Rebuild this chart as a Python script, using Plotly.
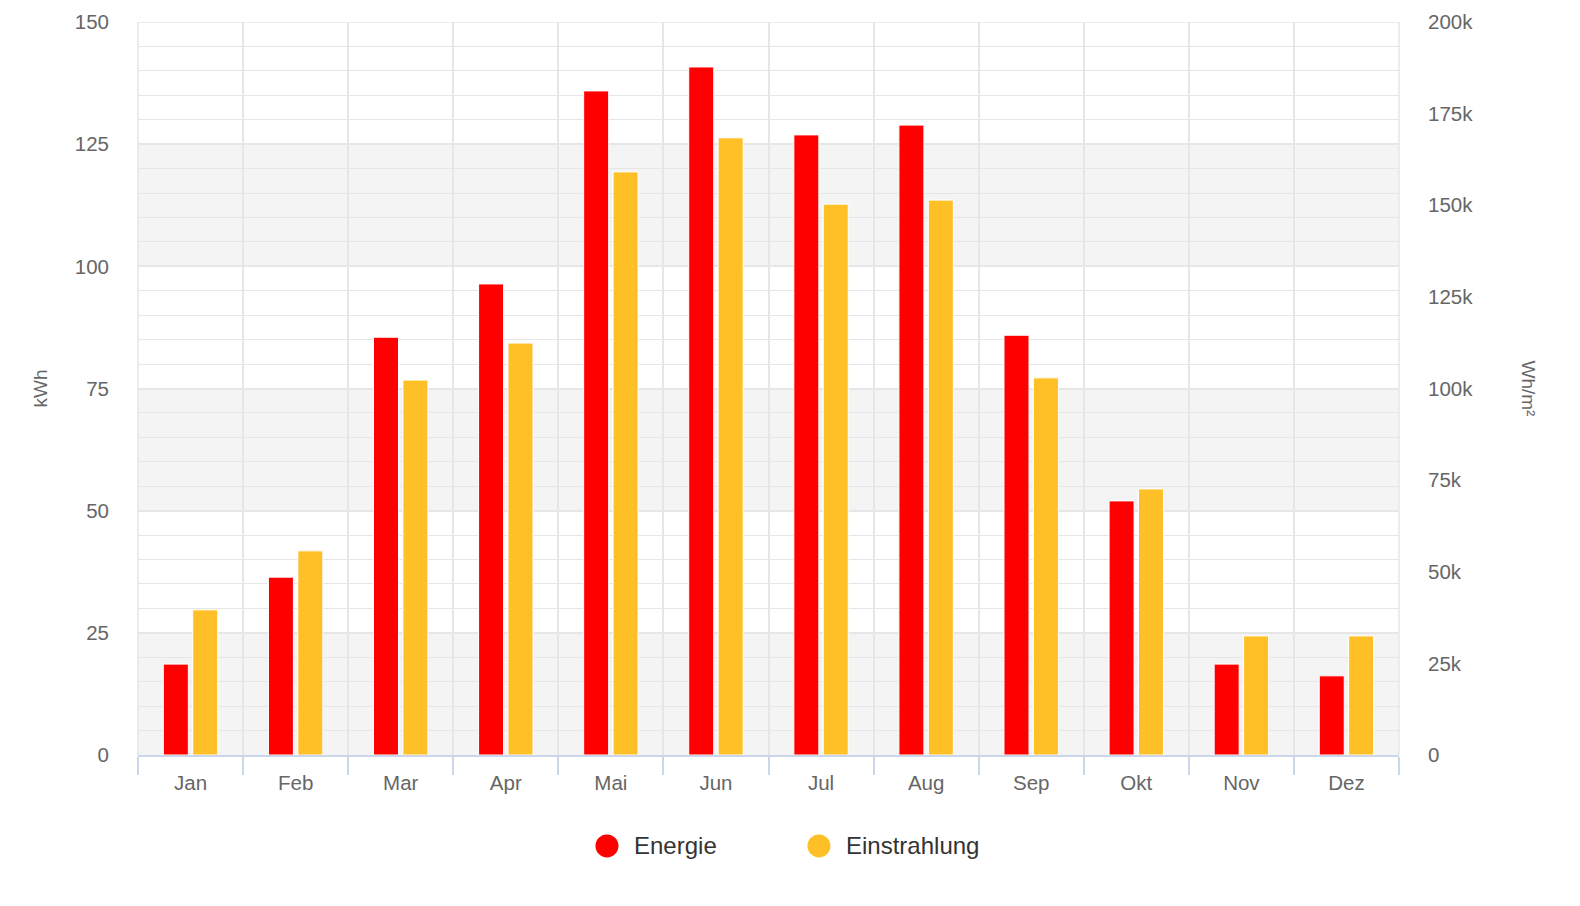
import plotly.graph_objects as go

months = ["Jan", "Feb", "Mar", "Apr", "Mai", "Jun", "Jul", "Aug", "Sep", "Okt", "Nov", "Dez"]
energie_kwh = [18.6, 36.4, 85.5, 96.4, 135.9, 140.8, 126.9, 128.9, 85.9, 52.0, 18.6, 16.2]
einstrahlung_whm2 = [39600, 55700, 102300, 112400, 159100, 168400, 150300, 151400, 102900, 72600, 32500, 32500]
series_names = ["Energie", "Einstrahlung"]

RED = "#ff0000"
YELLOW = "#ffbf27"
FONT = "Liberation Sans, Arial, sans-serif"
GRID = "#e6e6e6"

fig = go.Figure()
fig.add_trace(go.Bar(x=months, y=energie_kwh, name=series_names[0],
                     marker=dict(color=RED, line=dict(color="white", width=1)),
                     offsetgroup="a", yaxis="y", showlegend=False))
fig.add_trace(go.Bar(x=months, y=einstrahlung_whm2, name=series_names[1],
                     marker=dict(color=YELLOW, line=dict(color="white", width=1)),
                     offsetgroup="b", yaxis="y2", showlegend=False))

shapes = []
for lo, hi in [(0, 25), (50, 75), (100, 125)]:
    shapes.append(dict(type="rect", xref="paper", yref="y", x0=0, x1=1, y0=lo, y1=hi,
                       fillcolor="#f4f4f4", line=dict(width=0), layer="below"))
# frame lines (top gridline and outer category boundaries)
shapes.append(dict(type="line", xref="paper", yref="y", x0=0, x1=1, y0=150, y1=150,
                   line=dict(color=GRID, width=1.5), layer="below"))
for xp in (0, 1):
    shapes.append(dict(type="line", xref="paper", yref="paper", x0=xp, x1=xp, y0=0, y1=1,
                       line=dict(color=GRID, width=1.5), layer="below"))

# manual legend (large circle symbols)
legend_colors = [RED, YELLOW]
legend_x = [0.3719, 0.5400]  # circle centres in paper coords
legend_y = -0.124
annotations = [
    dict(text="kWh", xref="paper", yref="paper", x=-0.0777, y=0.5, textangle=-90, showarrow=False,
         font=dict(size=19, color="#666666"), xanchor="center", yanchor="middle"),
    dict(text="Wh/m²", xref="paper", yref="paper", x=1.1023, y=0.5, textangle=90, showarrow=False,
         font=dict(size=19, color="#666666"), xanchor="center", yanchor="middle"),
]
for name, col, lx in zip(series_names, legend_colors, legend_x):
    shapes.append(dict(type="circle", xref="paper", yref="paper", xsizemode="pixel", ysizemode="pixel",
                       xanchor=lx, yanchor=legend_y, x0=-11.5, x1=11.5, y0=-11.5, y1=11.5,
                       fillcolor=col, line=dict(width=0)))
    annotations.append(dict(text=name, xref="paper", yref="paper", x=lx, y=legend_y, xshift=25,
                            showarrow=False, xanchor="left", yanchor="middle",
                            font=dict(size=24, color="#333333")))

fig.update_layout(
    autosize=True,
    margin=dict(l=138, r=181, t=22, b=151),
    paper_bgcolor="white", plot_bgcolor="white",
    barmode="group", bargap=0.44, bargroupgap=0.15,
    font=dict(family=FONT, color="#666666", size=20),
    shapes=shapes, annotations=annotations, showlegend=False,
    xaxis=dict(type="category", tickson="boundaries", ticks="outside", ticklen=18, tickcolor="#ccd6eb",
               tickwidth=1.5, showline=True, linecolor="#ccd6eb", linewidth=1.5, showgrid=True,
               gridcolor=GRID, gridwidth=1.5, automargin=False, ticklabelstandoff=9,
               tickfont=dict(size=20.5, color="#666666")),
    yaxis=dict(range=[0, 150], dtick=25, showgrid=True, gridcolor=GRID, gridwidth=1.5, zeroline=False,
               minor=dict(dtick=5, showgrid=True, gridcolor=GRID, gridwidth=1), automargin=False,
               ticks="", ticklabelstandoff=28, tickfont=dict(size=20.5, color="#666666")),
    yaxis2=dict(range=[0, 200000], dtick=25000, overlaying="y", side="right", showgrid=False, zeroline=False,
                tickformat="~s", ticks="", ticklabelstandoff=28, automargin=False,
                tickfont=dict(size=20.5, color="#666666")),
)

fig.write_html("out.html", default_width="100vw", default_height="100vh",
               config=dict(displayModeBar=False, responsive=True),
               post_script="document.body.style.margin='0';document.body.style.overflow='hidden';"
                           "window.dispatchEvent(new Event('resize'));")
